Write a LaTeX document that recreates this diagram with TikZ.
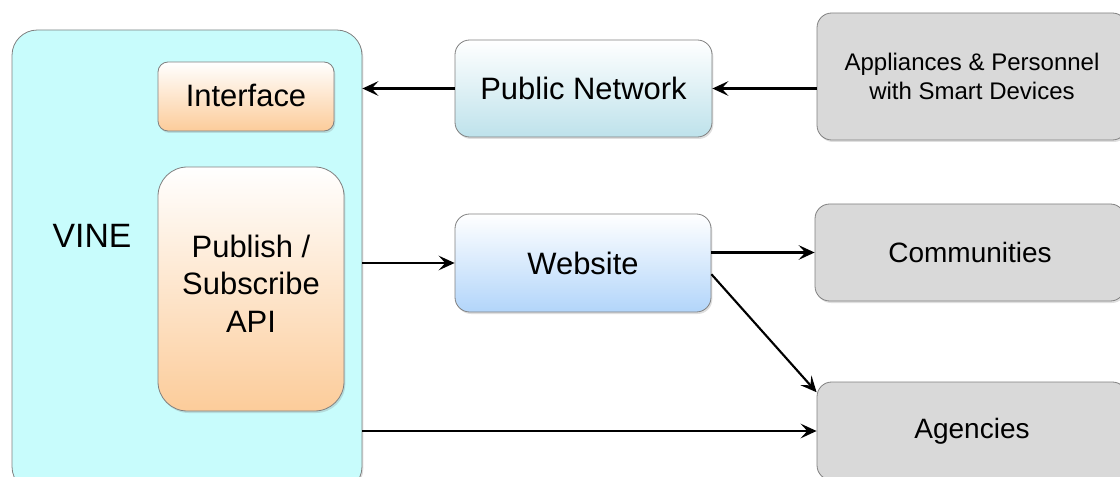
\documentclass[tikz,border=0pt]{standalone}
\usepackage{fontspec}
\setmainfont{Liberation Sans}
\usetikzlibrary{arrows.meta,shadows}

\definecolor{vinecyan}{RGB}{200,252,252}
\definecolor{apiorange}{RGB}{252,204,154}
\definecolor{netblue}{RGB}{190,226,235}
\definecolor{webblue}{RGB}{178,213,250}
\definecolor{boxgray}{RGB}{217,217,217}
\definecolor{edgegray}{RGB}{128,128,128}

\tikzset{
  box/.style={draw=edgegray, line width=0.6pt, rounded corners=11pt, align=center,
    inner sep=0pt, font=\fontsize{23.2}{28}\selectfont,
    drop shadow={opacity=0.25, shadow xshift=1pt, shadow yshift=-1.5pt}},
  apibox/.style={box, top color=white, bottom color=apiorange},
  netbox/.style={box, top color=white, bottom color=netblue},
  webbox/.style={box, top color=white, bottom color=webblue},
  graybox/.style={box, fill=boxgray, font=\fontsize{21}{25}\selectfont},
  flow/.style={-{Stealth[length=12pt,width=11pt,inset=5pt]}, line width=1.6pt},
}

\begin{document}
\begin{tikzpicture}[x=0.75pt, y=-0.75pt]
        \useasboundingbox (0,0) rectangle (1120,477);

        % VINE
        \node[box, fill=vinecyan, rounded corners=19pt, minimum width=262.5pt, minimum height=346.5pt] (vine) at (187,261) {};
        \node (vinelabel) at (92,236) {\fontsize{25.3}{30}\selectfont VINE};
        \node[apibox, rounded corners=7.5pt, minimum width=132pt, minimum height=51.75pt] (iface) at (246,96.5) {\raisebox{2pt}{Interface}};
        \node[apibox, rounded corners=22pt, minimum width=139.5pt, minimum height=183pt] (pubsub) at (251,289) {};
        \node (pubsublabel) at (251,287.5) {\fontsize{23.2}{28}\selectfont\begin{tabular}{@{}c@{}}Publish /\\Subscribe\\API\end{tabular}};

        % middle
        \node[netbox, minimum width=192.75pt, minimum height=72.75pt] (pubnet) at (583.5,88.5) {Public Network};
        \node[webbox, minimum width=192pt, minimum height=73.5pt] (website) at (583,263) {Website};

        % right
        \node[graybox, minimum width=232.5pt, minimum height=95.25pt, font=\fontsize{18}{22}\selectfont] (appl) at (972,76.5) {Appliances \& Personnel\\with Smart Devices};
        \node[graybox, minimum width=232.5pt, minimum height=72.75pt] (comm) at (970,252.5) {Communities};
        \node[graybox, minimum width=232.5pt, minimum height=73.5pt] (agen) at (972,431) {Agencies};

        % arrows
        \draw[flow] (pubnet.west) -- (pubnet.west -| vine.east);
        \draw[flow] (appl.west |- pubnet.east) -- (pubnet.east);
        \draw[flow] (vine.east |- website.west) -- (website.west);
        \draw[flow] (website.east |- comm.west) -- (comm.west);
        \draw[flow] (website.-5) -- (agen.166);
        \draw[flow] (vine.east |- agen.west) -- (agen.west);
\end{tikzpicture}
\end{document}
